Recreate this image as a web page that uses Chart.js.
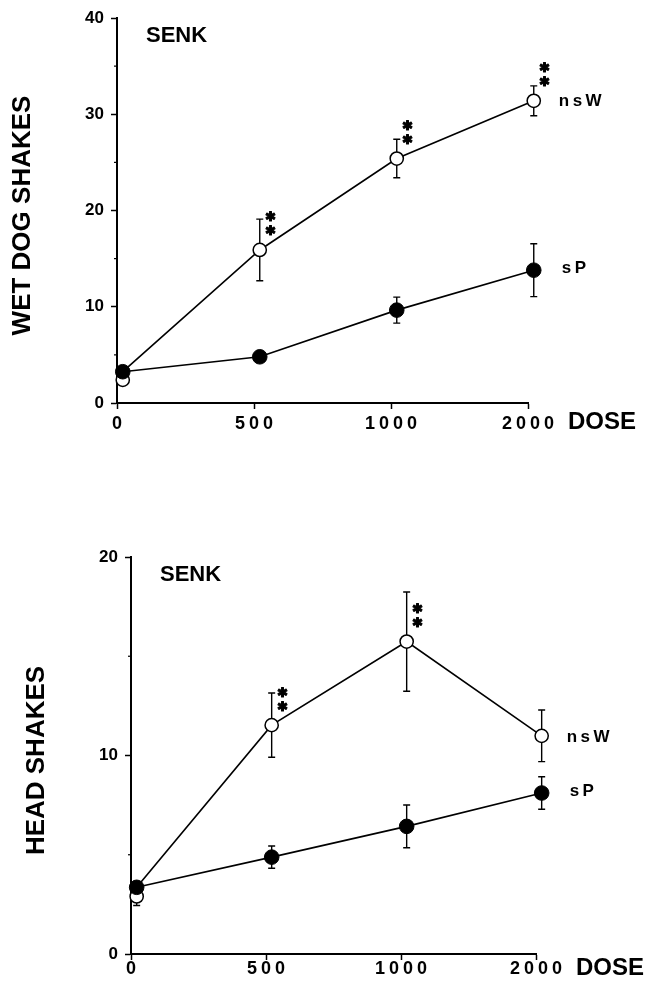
<!DOCTYPE html>
<html><head><meta charset="utf-8">
<script src="https://cdn.jsdelivr.net/npm/chart.js@4/dist/chart.umd.min.js"></script>
<style>
html,body{margin:0;padding:0;background:#fff;}
#wrap{position:relative;width:646px;height:982px;overflow:hidden;}
.panel{position:absolute;left:0;width:646px;height:491px;}
</style></head><body>
<div id="wrap">
<div class="panel" style="top:0"><canvas id="c1" width="646" height="491"></canvas></div>
<div class="panel" style="top:491px"><canvas id="c2" width="646" height="491"></canvas></div>
</div>
<script>
// ---- data ----
const doseLabels = ['0', '500', '1000', '2000'];
const panelTitle = 'SENK';
const seriesNames = ['nsW', 'sP'];

// Top panel: wet dog shakes
const wdsTitle = 'WET DOG SHAKES';
const wdsNsW = [2.4, 15.9, 25.4, 31.4];
const wdsNsWErr = [0.4, 3.2, 2.0, 1.55];
const wdsSP = [3.25, 4.8, 9.65, 13.8];
const wdsSPErr = [0.4, 0.5, 1.35, 2.75];
const wdsSig = [false, true, true, true];

// Bottom panel: head shakes
const hsTitle = 'HEAD SHAKES';
const hsNsW = [2.9, 11.53, 15.74, 10.99];
const hsNsWErr = [0.46, 1.62, 2.5, 1.3];
const hsSP = [3.36, 4.88, 6.43, 8.11];
const hsSPErr = [0.3, 0.56, 1.08, 0.82];
const hsSig = [false, true, true, false];

// ---- drawing ----
const SHIFT = 0.042;
const FONT = '"Liberation Sans", Arial, sans-serif';

function makeDecor(cfg) {
  return {
    id: 'decor',
    beforeDatasetsDraw(chart) {
      const {ctx, scales: {x, y}} = chart;
      ctx.save();
      ctx.strokeStyle = '#000';
      ctx.lineWidth = 1.4;
      [[cfg.nsW, cfg.nsWErr], [cfg.sP, cfg.sPErr]].forEach(([v, e]) => {
        v.forEach((val, i) => {
          const px = x.getPixelForValue(i + SHIFT);
          const t = y.getPixelForValue(val + e[i]);
          const b = y.getPixelForValue(val - e[i]);
          ctx.beginPath();
          ctx.moveTo(px, t); ctx.lineTo(px, b);
          ctx.moveTo(px - 3.5, t); ctx.lineTo(px + 3.5, t);
          ctx.moveTo(px - 3.5, b); ctx.lineTo(px + 3.5, b);
          ctx.stroke();
        });
      });
      ctx.restore();
    },
    afterDraw(chart) {
      const {ctx, chartArea: a, scales: {x, y}} = chart;
      ctx.save();
      ctx.fillStyle = '#000';
      ctx.strokeStyle = '#000';
      // minor y ticks
      ctx.lineWidth = 1.2;
      for (let v = cfg.yStep / 2; v < cfg.yMax; v += cfg.yStep) {
        const py = y.getPixelForValue(v);
        ctx.beginPath(); ctx.moveTo(a.left - 3, py); ctx.lineTo(a.left, py); ctx.stroke();
      }
      // x tick labels
      ctx.textBaseline = 'middle';
      ctx.textAlign = 'left';
      ctx.font = 'bold 18px ' + FONT;
      ctx.letterSpacing = '4px';
      doseLabels.forEach((l, i) => {
        const w = ctx.measureText(l).width;
        ctx.fillText(l, x.getPixelForValue(i) - (w - 4) / 2, a.bottom + cfg.xLabelGap);
      });
      // DOSE
      ctx.letterSpacing = '0px';
      ctx.font = 'bold 24px ' + FONT;
      ctx.fillText('DOSE', a.right + 40, a.bottom + cfg.doseGap);
      // panel title
      ctx.font = 'bold 22px ' + FONT;
      ctx.fillText(panelTitle, a.left + 29, a.top + 18);
      // series labels
      ctx.font = 'bold 17px ' + FONT;
      ctx.letterSpacing = '3.5px';
      const last = doseLabels.length - 1;
      const lx = x.getPixelForValue(last + SHIFT) + 25;
      ctx.fillText(seriesNames[0], lx, y.getPixelForValue(cfg.nsW[last]) + 1);
      ctx.fillText(seriesNames[1], lx + 3, y.getPixelForValue(cfg.sP[last]) - 2);
      ctx.letterSpacing = '0px';
      // significance asterisks
      ctx.font = 'bold 13px "DejaVu Sans", sans-serif';
      ctx.textAlign = 'center';
      ctx.lineWidth = 1;
      ctx.lineJoin = 'round';
      cfg.sig.forEach((s, i) => {
        if (!s) return;
        const px = x.getPixelForValue(i + SHIFT) + 11;
        const py = y.getPixelForValue(cfg.nsW[i]);
        [py - 32, py - 18].forEach(ay => {
          ctx.strokeText('\u2731', px, ay);
          ctx.fillText('\u2731', px, ay);
        });
      });
      // y title
      ctx.translate(a.left - 94, (a.top + a.bottom) / 2 + 5);
      ctx.rotate(-Math.PI / 2);
      ctx.font = 'bold 26px ' + FONT;
      ctx.textAlign = 'center';
      ctx.fillText(cfg.yTitle, 0, 0);
      ctx.restore();
    }
  };
}

function makeChart(id, cfg) {
  const pts = arr => arr.map((v, i) => ({x: i + SHIFT, y: v}));
  const nsWLine = pts(cfg.nsW);
  nsWLine[0] = {x: SHIFT, y: cfg.sP[0]};
  const W = 646, H = 491, YW = 40, XH = 6;
  new Chart(document.getElementById(id), {
    type: 'scatter',
    data: {
      datasets: [
        {label: seriesNames[1], data: pts(cfg.sP), showLine: true, borderColor: '#000', borderWidth: 1.6,
         pointRadius: 7.3, pointBackgroundColor: '#000', pointBorderColor: '#000', pointBorderWidth: 1,
         order: 0, clip: false},
        {label: seriesNames[0], data: pts(cfg.nsW), showLine: false,
         pointRadius: 6.6, pointBackgroundColor: '#fff', pointBorderColor: '#000', pointBorderWidth: 1.5,
         order: 1, clip: false},
        {label: seriesNames[0] + ' line', data: nsWLine, showLine: true, borderColor: '#000', borderWidth: 1.6,
         pointRadius: 0, order: 2, clip: false}
      ]
    },
    options: {
      responsive: false,
      animation: false,
      devicePixelRatio: 1,
      events: [],
      layout: {padding: {left: cfg.area.left - YW, right: W - cfg.area.right, top: cfg.area.top, bottom: H - cfg.area.bottom - XH}},
      plugins: {legend: {display: false}, tooltip: {enabled: false}},
      scales: {
        x: {
          type: 'linear', min: 0, max: doseLabels.length - 1,
          ticks: {display: false, stepSize: 1},
          grid: {display: true, drawOnChartArea: false, drawTicks: true, tickLength: XH, tickWidth: 1.5, tickColor: '#000'},
          border: {display: true, color: '#000', width: 2},
          afterFit(s) { s.height = XH; }
        },
        y: {
          type: 'linear', min: 0, max: cfg.yMax,
          ticks: {stepSize: cfg.yStep, padding: 7, color: '#000', font: {family: 'Liberation Sans', weight: 'bold', size: 17}},
          grid: {display: true, drawOnChartArea: false, drawTicks: true, tickLength: 6, tickWidth: 1.5, tickColor: '#000'},
          border: {display: true, color: '#000', width: 2},
          afterFit(s) { s.width = YW; }
        }
      }
    },
    plugins: [makeDecor(cfg)]
  });
}

makeChart('c1', {
  yTitle: wdsTitle, yMax: 40, yStep: 10,
  nsW: wdsNsW, nsWErr: wdsNsWErr, sP: wdsSP, sPErr: wdsSPErr, sig: wdsSig,
  area: {left: 117, right: 528, top: 18, bottom: 403},
  xLabelGap: 21, doseGap: 19
});
makeChart('c2', {
  yTitle: hsTitle, yMax: 20, yStep: 10,
  nsW: hsNsW, nsWErr: hsNsWErr, sP: hsSP, sPErr: hsSPErr, sig: hsSig,
  area: {left: 131, right: 536, top: 66, bottom: 463},
  xLabelGap: 15, doseGap: 14
});
</script>
</body></html>
